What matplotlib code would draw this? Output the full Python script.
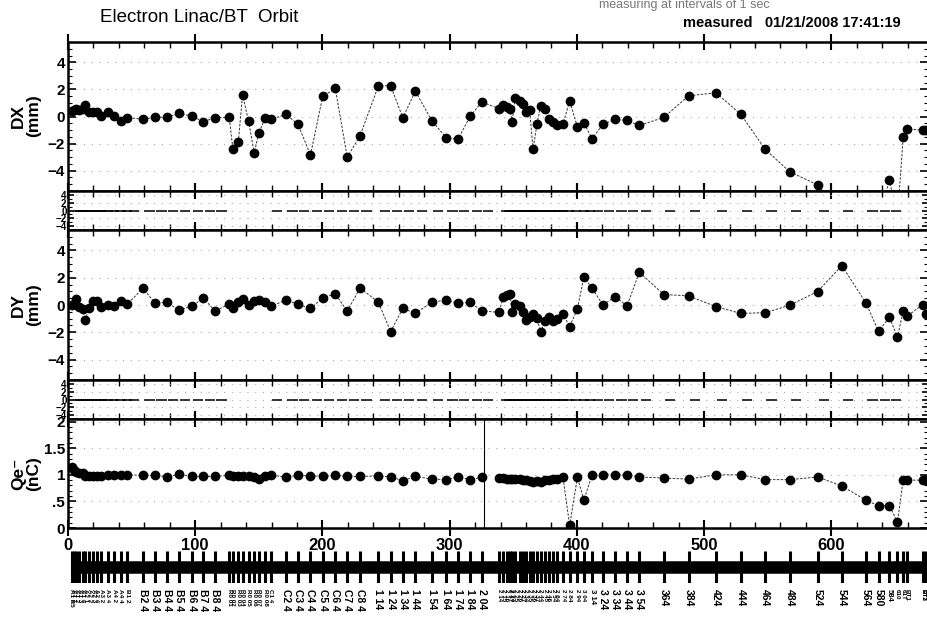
import numpy as np
import matplotlib.pyplot as plt
from matplotlib.ticker import MultipleLocator, FixedLocator, FuncFormatter

plt.rcParams['font.family'] = ['Liberation Sans', 'DejaVu Sans']
plt.rcParams['font.weight'] = 'bold'

# BPM positions along the beamline
bpm_s = [3, 4.5, 6.5, 9, 11.5, 13.5, 16.8, 19.9, 22.5, 26, 31.2, 36.2, 41.4, 46.7,
         59, 68.5, 77.8, 87.2, 97.2, 106.5, 115.6, 126.7, 129.6, 133.9, 137.2, 141.9,
         146.4, 149.8, 155, 159.5, 171.5, 180.8, 190.6, 200.2, 210.1, 219.5, 229.6,
         244, 253.6, 263.2, 273, 286, 297.3, 306.5, 316.3, 325.2,
         339, 342, 344.8, 347.5, 349, 351.7, 355.1, 357.3, 360, 362.8, 365.6, 368.6,
         371.6, 375, 378, 381.3, 384.3, 389.1, 394.3, 400.4, 405.5, 411.9,
         420.5, 430.1, 439.4, 449.1, 468.3, 487.8, 509.3, 529, 548, 567.4, 589.2,
         608.3, 627.4, 637.1, 645.7, 652, 656.5, 659.6, 671.9, 674.5]

dx = [0.4, 0.45, 0.55, 0.5, 0.55, 0.88, 0.36, 0.36, 0.3, 0.05, 0.36, 0.07, -0.3, -0.08,
      -0.2, -0.05, -0.05, 0.24, 0.02, -0.37, -0.1, -0.05, -2.38, -1.87, 1.6, -0.32,
      -2.7, -1.25, -0.11, -0.2, 0.15, -0.58, -2.85, 1.48, 2.07, -3.0, -1.42,
      2.27, 2.27, -0.1, 1.87, -0.3, -1.58, -1.67, 0.03, 1.07,
      0.58, 0.87, 0.7, 0.58, -0.39, 1.39, 1.14, 0.9, 0.36, 0.5, -2.4, -0.58,
      0.8, 0.58, -0.22, -0.39, -0.66, -0.58, 1.17, -0.78, -0.46, -1.63,
      -0.58, -0.22, -0.29, -0.66, -0.07, 1.53, 1.75, 0.15, -2.43, -4.09, -5.04,
      -7.2, -7.5, -7.5, -4.72, -7.5, -1.51, -0.9, -1.02, -1.0]

dy = [0.0, 0.07, 0.44, -0.12, -0.3, -1.11, -0.22, 0.27, 0.27, -0.17, 0.0, -0.1, 0.27, 0.07,
      1.23, 0.12, 0.2, -0.37, -0.1, 0.52, -0.44, 0.07, -0.22, 0.2, 0.44, 0.0,
      0.27, 0.37, 0.2, -0.1, 0.37, 0.05, -0.25, 0.52, 0.81, -0.45, 1.25,
      0.2, -1.95, -0.25, -0.62, 0.2, 0.37, 0.12, 0.2, -0.43,
      -0.54, 0.62, 0.75, 0.81, -0.49, 0.07, -0.05, -0.49, -1.11, -0.86, -0.67, -0.96,
      -1.97, -1.16, -0.86, -1.16, -0.99, -0.67, -1.58, -0.3, 2.05, 1.24,
      0.0, 0.62, -0.07, 2.4, 0.77, 0.67, -0.12, -0.62, -0.56, -0.02, 0.99,
      2.89, 0.12, -1.93, -0.91, -2.34, -0.44, -0.81, 0.03, -0.69]

qe = [1.14, 1.09, 1.05, 1.03, 1.03, 0.98, 0.98, 0.97, 0.97, 0.98, 0.99, 1.0, 1.0, 1.0,
      0.99, 0.99, 0.96, 1.01, 0.97, 0.97, 0.97, 0.99, 0.98, 0.97, 0.98, 0.97,
      0.96, 0.92, 0.97, 0.99, 0.96, 0.99, 0.98, 0.97, 0.99, 0.97, 0.97,
      0.98, 0.96, 0.89, 0.97, 0.92, 0.91, 0.96, 0.91, 0.95,
      0.94, 0.94, 0.93, 0.93, 0.92, 0.92, 0.92, 0.91, 0.90, 0.89, 0.87, 0.89,
      0.87, 0.90, 0.91, 0.92, 0.92, 0.95, 0.05, 0.95, 0.53, 0.99,
      1.0, 1.0, 1.0, 0.96, 0.94, 0.92, 1.0, 1.0, 0.91, 0.91, 0.96,
      0.79, 0.52, 0.42, 0.42, 0.11, 0.91, 0.90, 0.90, 0.90]

bpm_names = ["A1 B5", "A1 1", "A1 2", "A1 3", "A1 4", "A2 1", "A2 2", "A2 3", "A2 4",
             "A3 2", "A3 4", "A4 2", "A4 4", "B1 2",
             "B2 4", "B3 4", "B4 4", "B5 4", "B6 4", "B7 4", "B8 4", "R0 01", "R0 02",
             "R0 03", "R0 04", "R0 05", "R0 06", "R0 07", "R0 08", "C1 4",
             "C2 4", "C3 4", "C4 4", "C5 4", "C6 4", "C7 4", "C8 4",
             "1 14", "1 24", "1 34", "1 44", "1 54", "1 64", "1 74", "1 84", "2 04",
             "2 14", "2 15", "2 16", "2 17", "2 24", "2 25", "2 26", "2 27", "2 34",
             "2 35", "2 36", "2 37", "2 44", "2 45", "2 46", "2 54", "2 64", "2 74",
             "2 84", "2 94", "3 04", "3 14",
             "3 24", "3 34", "3 44", "3 54", "364", "384", "424", "444", "464", "484",
             "524", "544", "564", "580", "584", "610", "61T", "BT1", "BT2", "BT3"]

# BPMs without a valid status dash
flagged_s = [126.7, 129.6, 133.9, 137.2, 141.9, 146.4, 149.8, 155,
             652, 656.5, 659.6, 671.9, 674.5]

qe_break = 327.3  # Qe readout break

s = np.array(bpm_s)
ok = ~np.isin(s, flagged_s)

fig = plt.figure(figsize=(9.28, 6.33), dpi=100)
W, H = 928.0, 633.0
XMAX = 676


def box(top, bottom):
    return [68 / W, 1 - bottom / H, 860 / W, (bottom - top) / H]


ax_dx = fig.add_axes(box(42, 191))
ax_s1 = fig.add_axes(box(191, 230))
ax_dy = fig.add_axes(box(230, 380))
ax_s2 = fig.add_axes(box(380, 419))
ax_q = fig.add_axes(box(419, 528))
ax_lat = fig.add_axes(box(551, 583))

line_kw = dict(color="#333333", lw=0.7, ls=(0, (2.5, 1.5)), marker="o", ms=6,
               mfc="black", mec="black", clip_on=True)

ax_dx.plot(s, dx, **line_kw)
ax_dy.plot(s, dy, **line_kw)
cut = np.searchsorted(s, qe_break)
ax_q.plot(s[:cut], qe[:cut], **line_kw)
ax_q.plot(s[cut:], qe[cut:], **line_kw)
ax_q.axvline(qe_break, color="black", lw=0.8)

for ax in (ax_s1, ax_s2):
    ax.hlines(np.zeros(ok.sum()), s[ok] + 1, s[ok] + 9, color="black", lw=1.1)

for ax in (ax_dx, ax_s1, ax_dy, ax_s2, ax_q):
    ax.set_xlim(0, XMAX)
    ax.xaxis.set_major_locator(MultipleLocator(100))
    ax.xaxis.set_minor_locator(MultipleLocator(20))
    ax.tick_params(axis="x", which="major", direction="inout", length=12, width=1.5,
                   top=True, bottom=True, labelbottom=False)
    ax.tick_params(axis="x", which="minor", direction="in", length=4, width=1,
                   top=True, bottom=True)
    ax.tick_params(axis="y", which="both", direction="in", right=True, left=True)
    ax.tick_params(axis="y", which="major", length=6, width=1.2, pad=2, labelsize=11)
    ax.tick_params(axis="y", which="minor", length=3, width=0.8)
    for sp in ax.spines.values():
        sp.set_linewidth(1.8)

for ax in (ax_dx, ax_dy):
    ax.set_ylim(-5.5, 5.5)
    ax.yaxis.set_major_locator(FixedLocator([-4, -2, 0, 2, 4]))
    ax.yaxis.set_minor_locator(MultipleLocator(0.5))
    ax.grid(axis="y", color="#aaaaaa", ls=(0, (1, 6)), lw=0.8)

for ax in (ax_s1, ax_s2):
    ax.set_ylim(-5, 5)
    ax.yaxis.set_major_locator(FixedLocator([-4, -2, 0, 2, 4]))
    ax.yaxis.set_minor_locator(MultipleLocator(1))
    ax.tick_params(axis="y", which="major", labelsize=7, length=4, pad=1)
    ax.grid(axis="y", color="#aaaaaa", ls=(0, (1, 6)), lw=0.8)

ax_q.set_ylim(0, 2.05)
ax_q.yaxis.set_major_locator(FixedLocator([0, 0.5, 1, 1.5, 2]))
ax_q.yaxis.set_minor_locator(MultipleLocator(0.1))
ax_q.yaxis.set_major_formatter(FuncFormatter(
    lambda v, p: "%g" % v if v >= 1 or v == 0 else ("%g" % v)[1:]))
ax_q.grid(axis="y", color="#aaaaaa", ls=(0, (1, 6)), lw=0.8)
ax_q.tick_params(axis="x", which="major", labelbottom=True, labelsize=12, pad=1)

# beamline lattice strip
ax_lat.set_xlim(0, XMAX)
ax_lat.set_ylim(-1, 1)
ax_lat.hlines(0, s[0] - 1, XMAX, color="black", lw=9)
ax_lat.vlines(s, -1, 1, color="black", lw=2.2)
for sp in ax_lat.spines.values():
    sp.set_visible(False)
ax_lat.set_yticks([])
ax_lat.set_xticks([])

# element names: shrink the font where the BPMs crowd together
px = s * 860 / XMAX
gaps = np.diff(px)
room = np.minimum(np.r_[gaps[0], gaps], np.r_[gaps, gaps[-1]])
sizes = np.clip(room / 1.45, 4.5, 7.5)
for x, name, fs in zip(s, bpm_names, sizes):
    ha = "right" if x > XMAX - 4 else "center"
    ax_lat.text(x, -1.35, name, rotation=270, fontsize=fs, ha=ha, va="top",
                fontweight="bold", clip_on=False)

# titles and labels
fig.text(100 / W, 1 - 18 / H, "Electron Linac/BT  Orbit", fontsize=13.5,
         fontweight="normal", va="center", ha="left")
fig.text(684 / W, 1 - 5 / H, "measuring at intervals of 1 sec", fontsize=9,
         fontweight="normal", color="#777777", va="center", ha="center")
fig.text(901 / W, 1 - 23 / H, "measured   01/21/2008 17:41:19", fontsize=10.5,
         va="center", ha="right")

for txt, yc in (("DX\n(mm)", 116), ("DY\n(mm)", 305), ("Qe\u207b\n(nC)", 474)):
    fig.text(26 / W, 1 - yc / H, txt, rotation=90, fontsize=12.5, ha="center",
             va="center", multialignment="center", linespacing=1.0)

fig.savefig("out.png", dpi=100)
